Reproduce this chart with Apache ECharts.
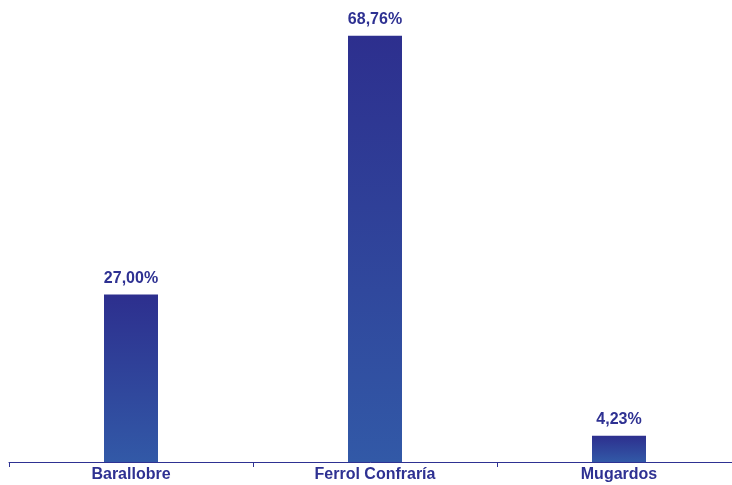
<!DOCTYPE html>
<html><head><meta charset="utf-8">
<script src="https://cdn.jsdelivr.net/npm/echarts@6/dist/echarts.min.js"></script>
<style>html,body{margin:0;padding:0;background:#fff}#c{width:732px;height:485px}</style>
</head><body><div id="c"></div>
<script>
const categories = ["Barallobre", "Ferrol Confraría", "Mugardos"];
const values = [27.00, 68.76, 4.23];
const chart = echarts.init(document.getElementById('c'));
chart.setOption({
  animation: false,
  grid: {left: 9, width: 732, top: 28, bottom: 23, containLabel: false, outerBoundsMode: 'none'},
  xAxis: {
    type: 'category', data: categories,
    axisLine: {lineStyle: {color: '#2E3192', width: 1}},
    axisTick: {show: true, lineStyle: {color: '#2E3192'}, length: 5},
    axisLabel: {color: '#2E3192', fontWeight: 'bold', fontSize: 16, fontFamily: 'Liberation Sans, Arial', margin: 5}
  },
  yAxis: {type: 'value', min: 0, max: 70, show: false, splitLine: {show: false}},
  series: [{
    type: 'bar', data: values, barWidth: 54,
    itemStyle: {color: new echarts.graphic.LinearGradient(0, 0, 0, 1, [
      {offset: 0, color: '#2D2F8E'}, {offset: 1, color: '#3259A7'}])},
    label: {show: true, position: 'top', distance: 8, color: '#2E3192', fontWeight: 'bold', fontSize: 16,
      fontFamily: 'Liberation Sans, Arial',
      formatter: p => p.value.toFixed(2).replace('.', ',') + '%'}
  }]
});
</script></body></html>
